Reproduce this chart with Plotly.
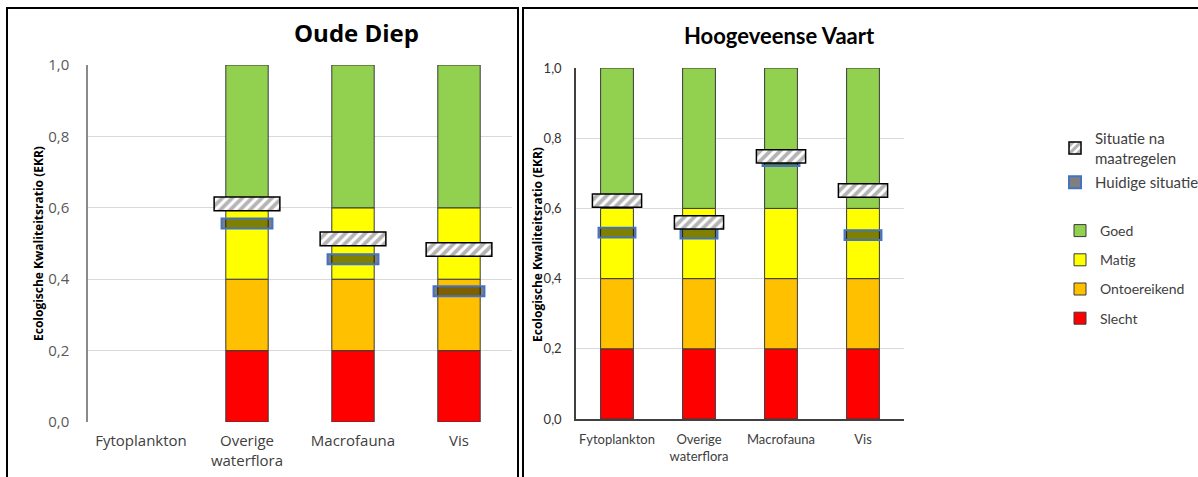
import plotly.graph_objects as go

# ---------------- data ----------------
categorieen = ["Fytoplankton", "Overige<br>waterflora", "Macrofauna", "Vis"]

klassen = ["Slecht", "Ontoereikend", "Matig", "Goed"]
klasse_onder = [0.0, 0.2, 0.4, 0.6]
klasse_boven = [0.2, 0.4, 0.6, 1.0]
klasse_kleuren = ["#FF0000", "#FFC000", "#FFFF00", "#92D050"]

# Oude Diep: no maatlat for Fytoplankton
oude_diep_maatlat = [False, True, True, True]
oude_diep_huidig = [None, 0.556, 0.456, 0.366]
oude_diep_na = [None, 0.611, 0.513, 0.483]

hoogeveense_maatlat = [True, True, True, True]
hoogeveense_huidig = [0.531, 0.528, 0.735, 0.524]
hoogeveense_na = [0.622, 0.560, 0.748, 0.651]

y_ticks = [0.0, 0.2, 0.4, 0.6, 0.8, 1.0]

# ---------------- figure ----------------
W, H = 1198, 477
fig = go.Figure()

HATCH_H = 0.038
HUID_H = 0.028


def add_panel(xa, ya, maatlat, huidig, na, bar_w, hatch_w, huid_w, show_legend):
    # class bands
    for i, k in enumerate(klassen):
        ys = [klasse_boven[i] - klasse_onder[i] if m else None for m in maatlat]
        bs = [klasse_onder[i] if m else None for m in maatlat]
        fig.add_trace(go.Bar(
            x=categorieen, y=ys, base=bs, width=bar_w,
            name=k, xaxis=xa, yaxis=ya,
            marker=dict(color=klasse_kleuren[i], line=dict(color="#3a3a3a", width=1)),
            showlegend=show_legend, legend="legend2", legendgroup=k,
            legendrank=10 - i, hoverinfo="skip",
        ))
    # current situation
    fig.add_trace(go.Bar(
        x=categorieen,
        y=[HUID_H if v is not None else None for v in huidig],
        base=[v - HUID_H / 2 if v is not None else None for v in huidig],
        width=huid_w, name="Huidige situatie", xaxis=xa, yaxis=ya,
        marker=dict(color="rgba(0,0,0,0.5)", line=dict(color="#4472C4", width=2)),
        showlegend=show_legend, legend="legend", legendgroup="huidig",
        legendrank=2, hoverinfo="skip",
    ))
    # after measures
    fig.add_trace(go.Bar(
        x=categorieen,
        y=[HATCH_H if v is not None else None for v in na],
        base=[v - HATCH_H / 2 if v is not None else None for v in na],
        width=hatch_w, name="Situatie na<br>maatregelen", xaxis=xa, yaxis=ya,
        marker=dict(color="white",
                    pattern=dict(shape="/", fgcolor="#6a6a6a", bgcolor="white", size=7, solidity=0.55),
                    line=dict(color="black", width=1.5)),
        showlegend=show_legend, legend="legend", legendgroup="na",
        legendrank=1, hoverinfo="skip",
    ))


add_panel("x", "y", oude_diep_maatlat, oude_diep_huidig, oude_diep_na, 0.4, 0.62, 0.48, False)
add_panel("x2", "y2", hoogeveense_maatlat, hoogeveense_huidig, hoogeveense_na, 0.4, 0.6, 0.45, True)

LF = "Open Sans"
RF = "Lato"

fig.update_layout(
    width=W, height=H,
    margin=dict(l=0, r=0, t=0, b=0, autoexpand=False),
    paper_bgcolor="white", plot_bgcolor="white",
    barmode="overlay",
    separators=", ",
    showlegend=True,
    xaxis=dict(domain=[88 / W, 512 / W], anchor="y", type="category",
               categoryorder="array", categoryarray=categorieen, range=[-0.5, 3.5],
               showline=False, showgrid=False, ticks="", ticklabelstandoff=8,
               tickfont=dict(family=LF, size=15, color="#404040")),
    yaxis=dict(domain=[1 - 422 / H, 1 - 65 / H], anchor="x", range=[0, 1],
               tickvals=y_ticks, tickformat=".1f", showgrid=True, gridcolor="#d9d9d9",
               gridwidth=1, showline=True, linecolor="#8a8a8a", linewidth=1.5,
               zeroline=False, ticks="", ticklabelstandoff=14,
               tickfont=dict(family=LF, size=15, color="#595959")),
    xaxis2=dict(domain=[576 / W, 904 / W], anchor="y2", type="category",
                categoryorder="array", categoryarray=categorieen, range=[-0.5, 3.5],
                showline=True, linecolor="#404040", linewidth=1.5, showgrid=False,
                ticks="", ticklabelstandoff=8,
                tickfont=dict(family=RF, size=13, color="#404040")),
    yaxis2=dict(domain=[1 - 419 / H, 1 - 68 / H], anchor="x2", range=[0, 1],
                tickvals=y_ticks, tickformat=".1f", showgrid=True, gridcolor="#d9d9d9",
                gridwidth=1, showline=True, linecolor="#404040", linewidth=1.5,
                zeroline=False, ticks="", ticklabelstandoff=10,
                tickfont=dict(family=RF, size=13, color="#333333")),
    legend=dict(x=1055 / W, y=1 - 122 / H, xanchor="left", yanchor="top",
                font=dict(family=RF, size=15, color="#404040"),
                bgcolor="rgba(0,0,0,0)", traceorder="grouped", tracegroupgap=2),
    legend2=dict(x=1060 / W, y=1 - 215 / H, xanchor="left", yanchor="top",
                 font=dict(family=RF, size=14, color="#404040"),
                 bgcolor="rgba(0,0,0,0)", traceorder="grouped", tracegroupgap=8),
    shapes=[
        dict(type="rect", xref="paper", yref="paper", x0=7 / W, x1=518 / W,
             y0=-0.05, y1=1 - 8 / H, line=dict(color="black", width=2)),
        dict(type="rect", xref="paper", yref="paper", x0=523 / W, x1=1.05,
             y0=-0.05, y1=1 - 8 / H, line=dict(color="black", width=2)),
    ],
    annotations=[
        dict(text="<b>Oude Diep</b>", x=357 / W, y=1 - 32 / H, xref="paper", yref="paper",
             showarrow=False, xanchor="center", yanchor="middle",
             font=dict(family=LF, size=24, color="black")),
        dict(text="<b>Hoogeveense Vaart</b>", x=780 / W, y=1 - 36 / H, xref="paper", yref="paper",
             showarrow=False, xanchor="center", yanchor="middle",
             font=dict(family=RF, size=22, color="black")),
        dict(text="<b>Ecologische Kwaliteitsratio (EKR)</b>", x=38 / W, y=1 - 244 / H,
             xref="paper", yref="paper", showarrow=False, textangle=-90,
             xanchor="center", yanchor="middle",
             font=dict(family=LF, size=12, color="black")),
        dict(text="<b>Ecologische Kwaliteitsratio (EKR)</b>", x=538 / W, y=1 - 245 / H,
             xref="paper", yref="paper", showarrow=False, textangle=-90,
             xanchor="center", yanchor="middle",
             font=dict(family=LF, size=12, color="black")),
    ],
)

fig.write_html("out.html", config={"displayModeBar": False},
               post_script="document.body.style.margin='0';document.body.style.overflow='hidden';")
